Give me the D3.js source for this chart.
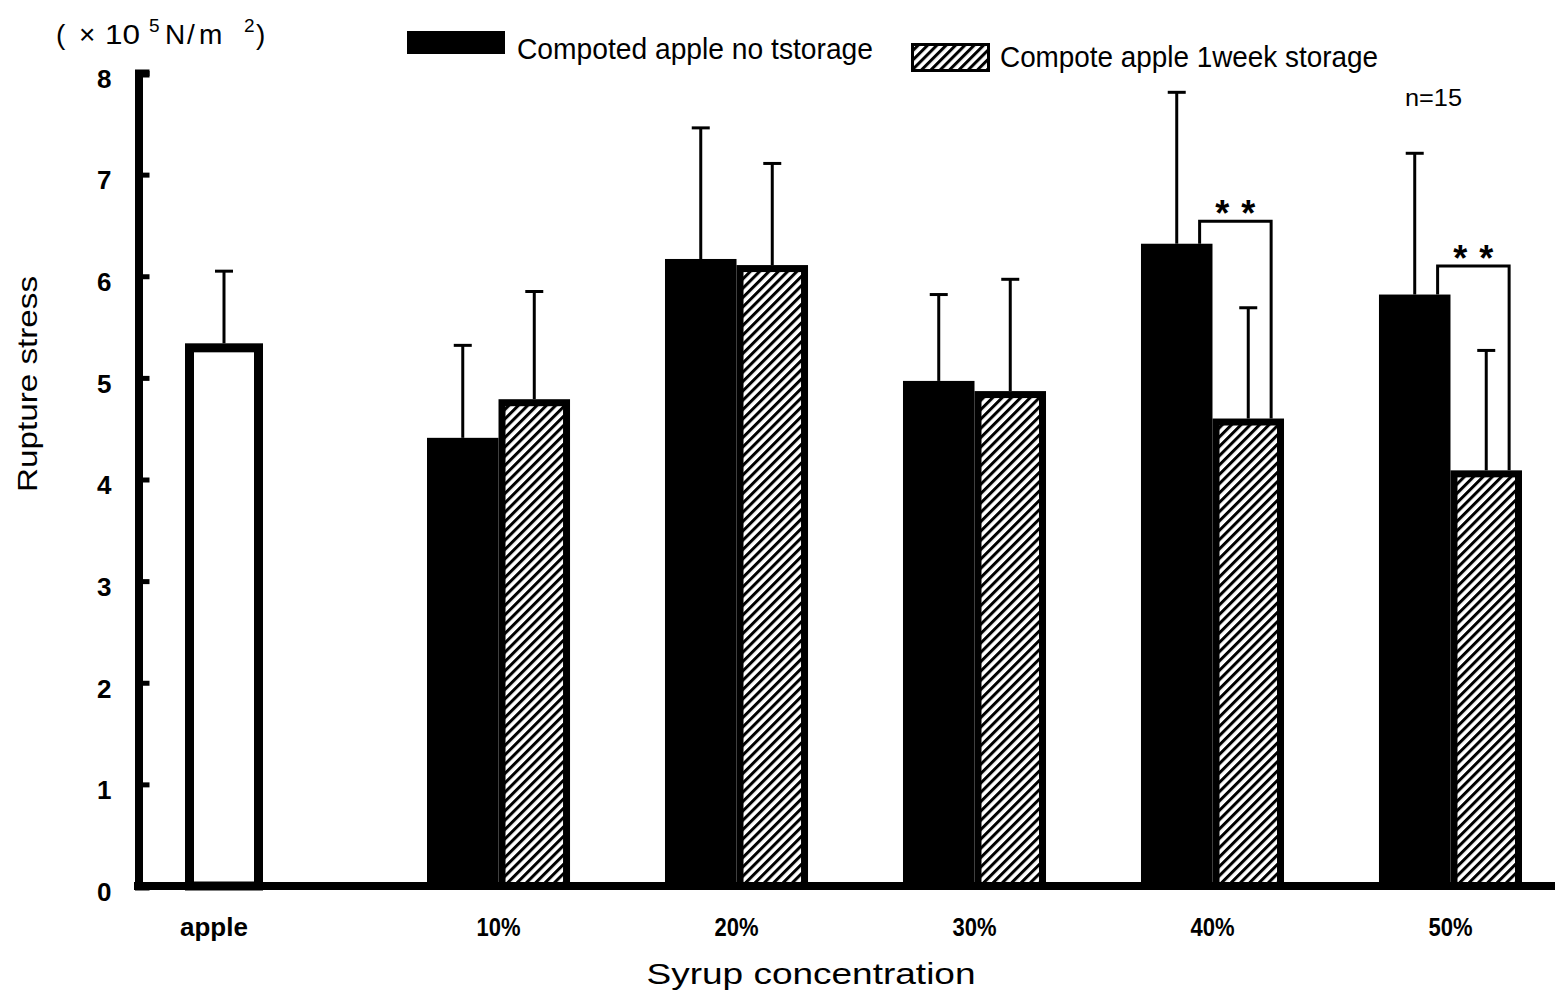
<!DOCTYPE html>
<html>
<head>
<meta charset="utf-8">
<script src="https://cdn.jsdelivr.net/npm/d3@7/dist/d3.min.js"></script>
<style>
  html, body { margin: 0; padding: 0; background: #fff; }
  text { font-family: "Liberation Sans", Arial, sans-serif; fill: #000; }
</style>
</head>
<body>
<script>
// Rupture stress of raw and compoted apple by syrup concentration (mean + SD, n=15)
const concentrations = ["10%", "20%", "30%", "40%", "50%"];
const seriesKeys = ["noStorage", "weekStorage"];
const seriesNames = ["Compoted apple no tstorage", "Compote apple 1week storage"];

const appleMean = 5.34;
const appleSD = 0.71;

const noStorageMean = [4.41, 6.17, 4.97, 6.32, 5.82];
const noStorageSD   = [0.91, 1.29, 0.85, 1.49, 1.39];
const weekStorageMean = [4.79, 6.11, 4.87, 4.60, 4.09];
const weekStorageSD   = [1.06, 1.00, 1.10, 1.09, 1.18];

const yTicks = [0, 1, 2, 3, 4, 5, 6, 7, 8];

// significance brackets: group, bracket level (stress units), mark
const sigGroups = ["40%", "50%"];
const sigLevels = [6.54, 6.10];
const sigMarks  = [["*", "*"], ["*", "*"]];

const W = 1555, H = 1004;
const svg = d3.select("body").append("svg")
  .attr("width", W).attr("height", H)
  .style("display", "block");

svg.append("rect").attr("width", W).attr("height", H).attr("fill", "#fff");

// diagonal hatch for the storage series
const defs = svg.append("defs");
const hatch = defs.append("pattern")
  .attr("id", "hatch")
  .attr("patternUnits", "userSpaceOnUse")
  .attr("width", 6.6).attr("height", 6.6)
  .attr("patternTransform", "rotate(45)");
hatch.append("rect").attr("width", 6.6).attr("height", 6.6).attr("fill", "#fff");
hatch.append("rect").attr("width", 3).attr("height", 6.6).attr("fill", "#000");

// scales
const y = d3.scaleLinear().domain([0, 8]).range([886, 73]);
const x0 = d3.scaleBand().domain(concentrations).range([427, 1522]).paddingInner(0.399).paddingOuter(0);
const x1 = d3.scaleBand().domain(seriesKeys).range([0, x0.bandwidth()]);
const xApple = d3.scaleBand().domain(["apple"]).range([185, 263]);

const rows = concentrations.map((c, i) => ({
  cat: c,
  bars: [
    { key: "noStorage", mean: noStorageMean[i], sd: noStorageSD[i] },
    { key: "weekStorage", mean: weekStorageMean[i], sd: weekStorageSD[i] }
  ]
}));

// error bar helper
function errorBar(g, cx, mean, sd) {
  g.append("line")
    .attr("x1", cx).attr("x2", cx)
    .attr("y1", y(mean)).attr("y2", y(mean + sd))
    .attr("stroke", "#000").attr("stroke-width", 3);
  g.append("line")
    .attr("x1", cx - 9).attr("x2", cx + 9)
    .attr("y1", y(mean + sd)).attr("y2", y(mean + sd))
    .attr("stroke", "#000").attr("stroke-width", 3);
}

const plot = svg.append("g");

// raw apple bar (open)
{
  const sw = 9;
  const x = xApple("apple"), w = xApple.bandwidth();
  errorBar(plot, x + w / 2, appleMean, appleSD);
  plot.append("rect")
    .attr("x", x + sw / 2).attr("y", y(appleMean) + sw / 2)
    .attr("width", w - sw).attr("height", y(0) - y(appleMean) - sw / 2)
    .attr("fill", "#fff").attr("stroke", "#000").attr("stroke-width", sw);
}

// grouped bars
const groups = plot.selectAll("g.grp").data(rows).join("g")
  .attr("class", "grp")
  .attr("transform", d => `translate(${x0(d.cat)},0)`);

groups.each(function (d) {
  const g = d3.select(this);
  d.bars.forEach(b => {
    const bx = x1(b.key), bw = x1.bandwidth();
    errorBar(g, bx + bw / 2, b.mean, b.sd);
    if (b.key === "noStorage") {
      g.append("rect")
        .attr("x", bx).attr("y", y(b.mean))
        .attr("width", bw).attr("height", y(0) - y(b.mean))
        .attr("fill", "#000");
    } else {
      const sw = 7;
      g.append("rect")
        .attr("x", bx + sw / 2).attr("y", y(b.mean) + sw / 2)
        .attr("width", bw - sw).attr("height", y(0) - y(b.mean) - sw / 2)
        .attr("fill", "url(#hatch)").attr("stroke", "#000").attr("stroke-width", sw);
    }
  });
});

// significance brackets
sigGroups.forEach((c, i) => {
  const row = rows.find(r => r.cat === c);
  const bw = x1.bandwidth();
  const xl = x0(c) + x1("noStorage") + bw * 0.82;
  const xr = x0(c) + x1("weekStorage") + bw * 0.82;
  const yt = y(sigLevels[i]);
  plot.append("path")
    .attr("d", `M${xl},${y(row.bars[0].mean)}V${yt}H${xr}V${y(row.bars[1].mean)}`)
    .attr("fill", "none").attr("stroke", "#000").attr("stroke-width", 3);
  const mid = (xl + xr) / 2;
  sigMarks[i].forEach((m, j) => {
    plot.append("text")
      .attr("x", mid + (j === 0 ? -13 : 13)).attr("y", yt + 5)
      .attr("text-anchor", "middle")
      .style("font-size", "36px").style("font-weight", "bold")
      .text(m);
  });
});

// y axis with inward ticks
const yAxis = d3.axisLeft(y)
  .tickValues(yTicks)
  .tickSizeInner(-11).tickSizeOuter(-11)
  .tickPadding(27)
  .tickFormat(d3.format("d"));
const ya = svg.append("g").attr("transform", "translate(138.5,0)").call(yAxis);
ya.select(".domain").attr("stroke", "#000").attr("stroke-width", 8).attr("fill", "none");
ya.selectAll(".tick line").attr("stroke", "#000").attr("stroke-width", 5);
ya.selectAll(".tick text")
  .attr("dy", "0.55em")
  .attr("font-family", null).attr("font-size", null)
  .style("font-size", "26px").style("font-weight", "bold");

// x axis baseline
svg.append("line")
  .attr("x1", 134).attr("x2", W).attr("y1", y(0)).attr("y2", y(0))
  .attr("stroke", "#000").attr("stroke-width", 8);

// category labels
const catLabels = svg.append("g").style("font-size", "26px").style("font-weight", "bold");
catLabels.append("text")
  .attr("x", xApple("apple") + xApple.bandwidth() / 2 - 10).attr("y", 936)
  .attr("text-anchor", "middle").text("apple");
catLabels.selectAll("text.c").data(concentrations).join("text")
  .attr("class", "c")
  .attr("x", d => x0(d) + x0.bandwidth() / 2)
  .attr("y", 936)
  .attr("text-anchor", "middle")
  .attr("textLength", 44).attr("lengthAdjust", "spacingAndGlyphs")
  .text(d => d);

// axis titles
svg.append("text")
  .attr("x", 811).attr("y", 984)
  .attr("text-anchor", "middle")
  .attr("textLength", 329).attr("lengthAdjust", "spacingAndGlyphs")
  .style("font-size", "30px")
  .text("Syrup concentration");

svg.append("text")
  .attr("transform", "translate(37,384) rotate(-90)")
  .attr("text-anchor", "middle")
  .attr("textLength", 216).attr("lengthAdjust", "spacingAndGlyphs")
  .style("font-size", "28px")
  .text("Rupture stress");

// unit label (×10^5 N/m^2)
const unit = svg.append("g").style("font-size", "28px");
unit.append("text").attr("x", 56).attr("y", 44).text("(");
unit.append("text").attr("x", 79).attr("y", 44).text("×");
unit.append("text").attr("x", 105).attr("y", 44).attr("textLength", 35).attr("lengthAdjust", "spacingAndGlyphs").text("10");
unit.append("text").attr("x", 149).attr("y", 32).style("font-size", "19px").text("5");
unit.append("text").attr("x", 165).attr("y", 44).text("N");
unit.append("text").attr("x", 187).attr("y", 44).text("/");
unit.append("text").attr("x", 199).attr("y", 44).text("m");
unit.append("text").attr("x", 244).attr("y", 32).style("font-size", "19px").text("2");
unit.append("text").attr("x", 256).attr("y", 44).text(")");

// legend
const legend = svg.append("g");
legend.append("rect").attr("x", 407).attr("y", 31).attr("width", 98).attr("height", 23).attr("fill", "#000");
legend.append("text").attr("x", 517).attr("y", 59)
  .attr("textLength", 356).attr("lengthAdjust", "spacingAndGlyphs")
  .style("font-size", "29px").text(seriesNames[0]);
legend.append("rect").attr("x", 912.5).attr("y", 44.5).attr("width", 76).attr("height", 26)
  .attr("fill", "url(#hatch)").attr("stroke", "#000").attr("stroke-width", 3);
legend.append("text").attr("x", 1000).attr("y", 67)
  .attr("textLength", 378).attr("lengthAdjust", "spacingAndGlyphs")
  .style("font-size", "29px").text(seriesNames[1]);

// sample size
svg.append("text").attr("x", 1405).attr("y", 106)
  .attr("textLength", 57).attr("lengthAdjust", "spacingAndGlyphs")
  .style("font-size", "23px").text("n=15");
</script>
</body>
</html>
